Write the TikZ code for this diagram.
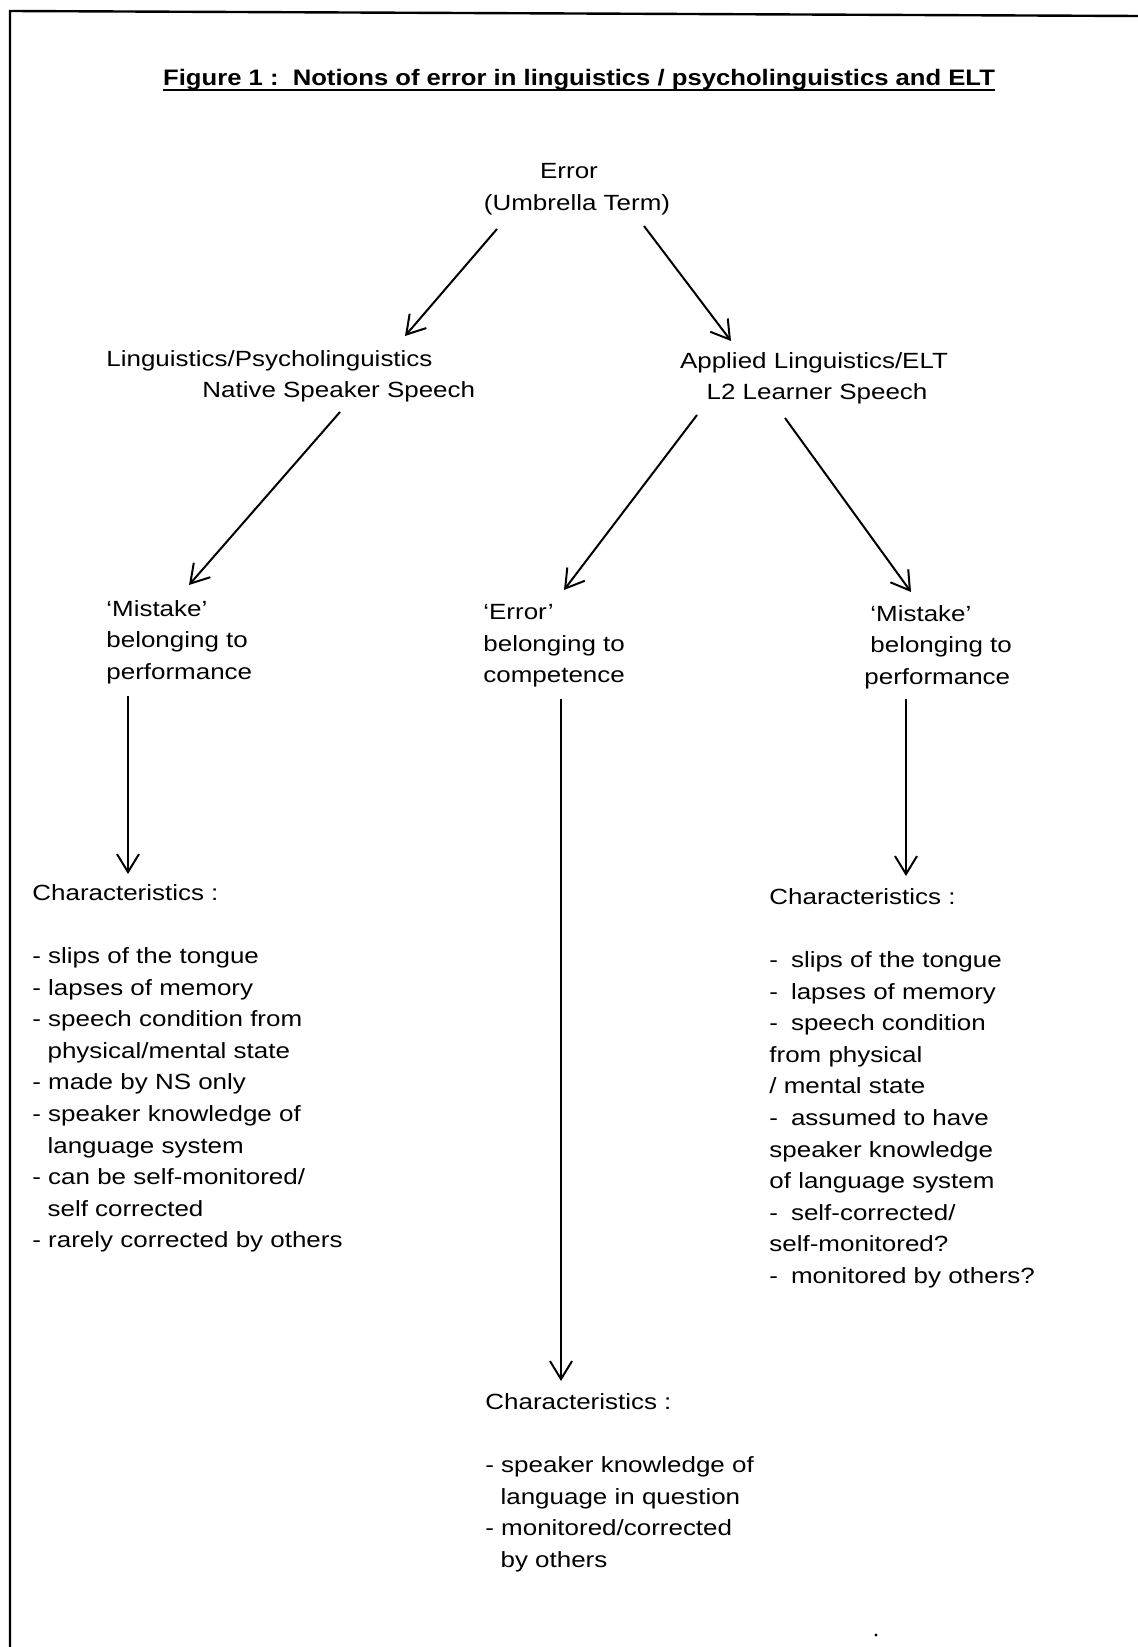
\documentclass[tikz,border=0pt]{standalone}
\usepackage{fontspec}
\setmainfont{Liberation Sans}[FakeStretch=1.18]
\newfontfamily\titlefont{Liberation Sans}[FakeStretch=1.145]
\usetikzlibrary{arrows.meta}
\newcommand{\ind}{\hspace*{7.6pt}}
\newcommand{\rdash}{-\hspace{6.5pt}}
\begin{document}
\begin{tikzpicture}[x=0.5pt,y=-0.5pt,
  txt/.style={inner sep=0pt, anchor=north west, align=left, font=\fontsize{11}{15.8}\selectfont},
  arr/.style={line width=1pt, -{Straight Barb[length=9pt,width=11pt,line width=1pt]}},
  frame/.style={line width=1.2pt}]
\useasboundingbox (0,0) rectangle (1138,1647);
\draw[frame] (1138,16) -- (10,11) -- (10,1647);

\node[inner sep=0pt, anchor=base, font=\titlefont\fontsize{11.2}{14}\selectfont\bfseries] (title) at (579,86)
  {Figure 1 :\ \ Notions of error in linguistics / psycholinguistics and ELT};
\draw[line width=0.9pt] ([shift={(0,4)}]title.base west) -- ([shift={(0,4)}]title.base east);

\node[txt, anchor=north, align=center] (err) at (577,163) {Error\hspace*{8pt}\\(Umbrella Term)};
\node[txt] (lp) at (106,350) {Linguistics/Psycholinguistics\\\hspace*{48pt}Native Speaker Speech};
\node[txt, anchor=north, align=center] (al) at (814,352) {Applied Linguistics/ELT\\\hspace*{3pt}L2 Learner Speech};

\node[txt] (mk1) at (106,600) {`Mistake'\\belonging to\\performance};
\node[txt] (er2) at (483,604) {`Error'\\belonging to\\competence};
\node[txt] (mk2) at (864,605) {\hspace*{3pt}`Mistake'\\\hspace*{3pt}belonging to\\performance};

\node[txt] (ch1) at (32,884) {Characteristics :\\[15.8pt]
- slips of the tongue\\
- lapses of memory\\
- speech condition from\\
\ind physical/mental state\\
- made by NS only\\
- speaker knowledge of\\
\ind language system\\
- can be self-monitored/\\
\ind self corrected\\
- rarely corrected by others};

\node[txt] (ch3) at (769,888) {Characteristics :\\[15.8pt]
\rdash slips of the tongue\\
\rdash lapses of memory\\
\rdash speech condition\\
from physical\\
/ mental state\\
\rdash assumed to have\\
speaker knowledge\\
of language system\\
\rdash self-corrected/\\
self-monitored?\\
\rdash monitored by others?};

\node[txt] (ch2) at (485,1393) {Characteristics :\\[15.8pt]
- speaker knowledge of\\
\ind language in question\\
- monitored/corrected\\
\ind by others};

\draw[arr] ([shift={(-80,66)}]err.north) -- ([shift={(299,-14)}]lp.north west);
\draw[arr] ([shift={(67,63)}]err.north) -- ([shift={(-83,-11)}]al.north);
\draw[arr] ([shift={(234,62)}]lp.north west) -- ([shift={(83,-15)}]mk1.north west);
\draw[arr] ([shift={(-117,63)}]al.north) -- ([shift={(81,-14)}]er2.north west);
\draw[arr] ([shift={(-29,66)}]al.north) -- ([shift={(47,-13)}]mk2.north west);
\draw[arr] ([shift={(22,96)}]mk1.north west) -- ([shift={(96,-10)}]ch1.north west);
\draw[arr] ([shift={(78,95)}]er2.north west) -- ([shift={(76,-12)}]ch2.north west);
\draw[arr] ([shift={(42,94)}]mk2.north west) -- ([shift={(137,-12)}]ch3.north west);

\fill (876,1635) circle (0.8pt);
\end{tikzpicture}
\end{document}
